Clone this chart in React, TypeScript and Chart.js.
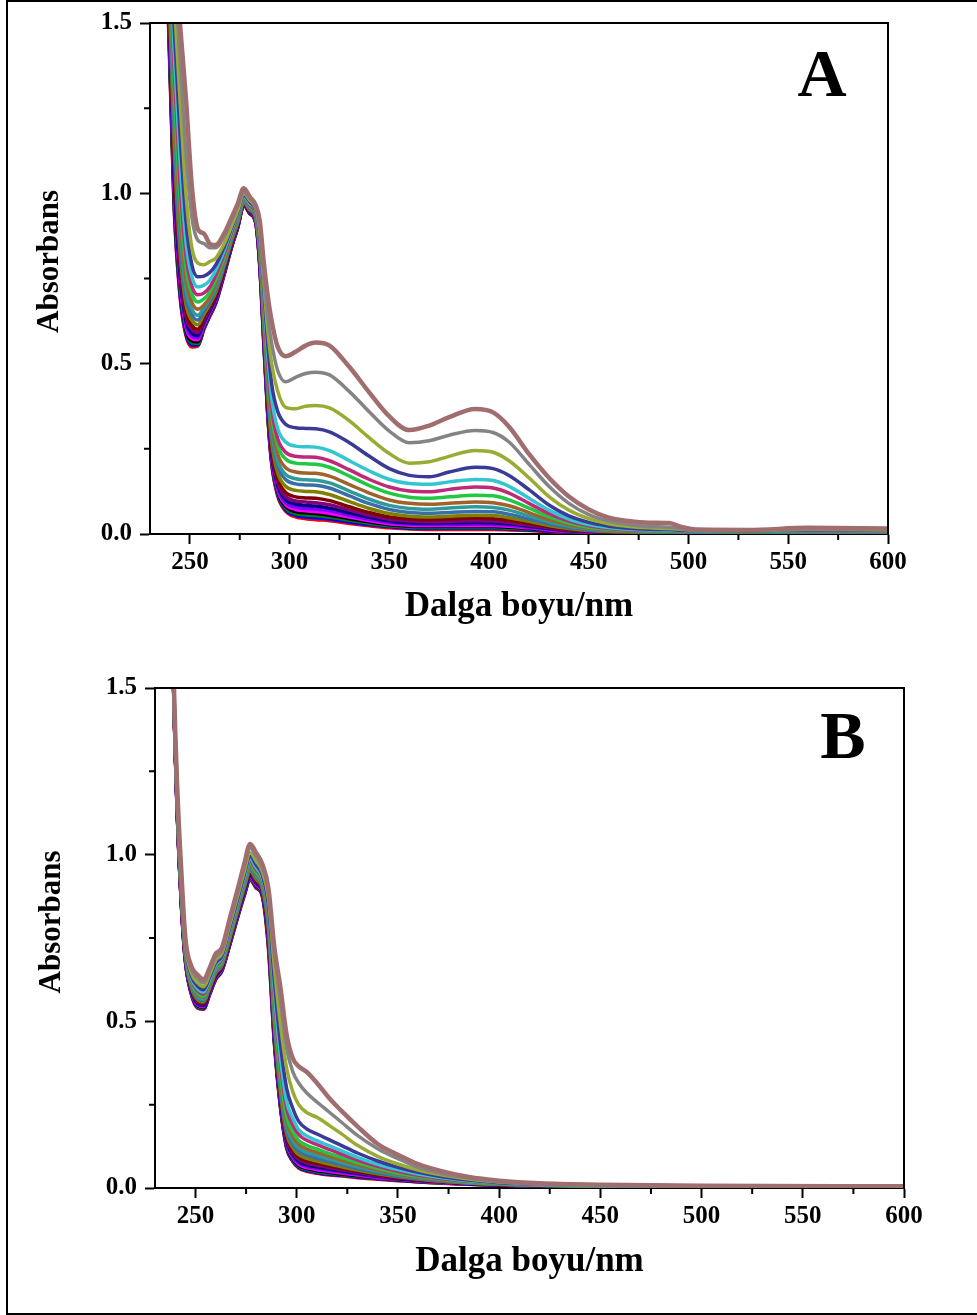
import React, { useEffect, useRef } from 'react';
import { Chart, registerables } from 'chart.js';
Chart.register(...registerables);

// ---------- Panel A data (wavelength, nm) ----------
const WL_A = [236, 239, 242, 245, 248, 251, 254, 257, 260, 263, 267, 271, 274, 277, 280, 283, 285, 287, 289, 291, 294, 298, 303, 308, 313, 320, 330, 340, 350, 360, 370, 380, 393, 402, 410, 420, 430, 440, 450, 460, 470, 480, 490, 497, 505, 530, 560, 600];

const A_BROWN = [2.6, 2.05, 1.75, 1.5, 1.28, 1.02, 0.895, 0.882, 0.852, 0.848, 0.88, 0.93, 0.97, 1.015, 0.99, 0.965, 0.92, 0.8, 0.7, 0.625, 0.55, 0.522, 0.535, 0.553, 0.562, 0.553, 0.49, 0.415, 0.345, 0.305, 0.318, 0.343, 0.367, 0.357, 0.315, 0.235, 0.165, 0.11, 0.072, 0.048, 0.038, 0.033, 0.032, 0.02, 0.013, 0.012, 0.018, 0.016];
const A_GRAY = [2.55, 2.0, 1.68, 1.4, 1.12, 0.93, 0.862, 0.853, 0.84, 0.84, 0.872, 0.922, 0.963, 1.005, 0.985, 0.96, 0.9, 0.76, 0.64, 0.56, 0.48, 0.447, 0.46, 0.471, 0.475, 0.467, 0.418, 0.358, 0.302, 0.268, 0.274, 0.29, 0.304, 0.298, 0.27, 0.205, 0.14, 0.09, 0.057, 0.038, 0.028, 0.022, 0.02, 0.015, 0.012, 0.011, 0.015, 0.014];
const A_OLIVEGREEN = [2.5, 1.95, 1.58, 1.28, 1.0, 0.84, 0.795, 0.79, 0.8, 0.81, 0.85, 0.905, 0.95, 1.0, 0.98, 0.955, 0.89, 0.74, 0.6, 0.5, 0.42, 0.372, 0.368, 0.375, 0.377, 0.37, 0.332, 0.282, 0.236, 0.208, 0.212, 0.228, 0.245, 0.24, 0.215, 0.165, 0.11, 0.07, 0.045, 0.03, 0.022, 0.018, 0.016, 0.013, 0.011, 0.01, 0.013, 0.012];
const A_NAVY = [2.45, 1.9, 1.5, 1.18, 0.92, 0.79, 0.755, 0.757, 0.768, 0.79, 0.84, 0.9, 0.945, 0.995, 0.975, 0.95, 0.88, 0.72, 0.56, 0.44, 0.36, 0.322, 0.312, 0.31, 0.309, 0.3, 0.268, 0.228, 0.192, 0.172, 0.168, 0.182, 0.196, 0.192, 0.172, 0.13, 0.085, 0.053, 0.034, 0.023, 0.017, 0.014, 0.013, 0.011, 0.01, 0.009, 0.011, 0.011];
const A_CYAN = [2.42, 1.85, 1.43, 1.1, 0.86, 0.755, 0.725, 0.73, 0.745, 0.775, 0.83, 0.895, 0.94, 0.99, 0.97, 0.945, 0.87, 0.7, 0.53, 0.4, 0.31, 0.27, 0.258, 0.256, 0.255, 0.245, 0.215, 0.185, 0.16, 0.148, 0.146, 0.153, 0.16, 0.157, 0.14, 0.105, 0.07, 0.044, 0.028, 0.019, 0.014, 0.012, 0.011, 0.01, 0.009, 0.008, 0.01, 0.01];
const A_MAGENTA = [2.4, 1.82, 1.38, 1.04, 0.82, 0.728, 0.702, 0.707, 0.725, 0.76, 0.82, 0.888, 0.935, 0.987, 0.965, 0.94, 0.86, 0.68, 0.5, 0.37, 0.28, 0.24, 0.228, 0.226, 0.225, 0.215, 0.188, 0.16, 0.138, 0.126, 0.124, 0.131, 0.138, 0.135, 0.12, 0.09, 0.06, 0.038, 0.024, 0.016, 0.012, 0.01, 0.01, 0.009, 0.008, 0.008, 0.009, 0.009];
const A_GREEN = [2.38, 1.79, 1.33, 0.99, 0.785, 0.705, 0.681, 0.69, 0.71, 0.748, 0.81, 0.882, 0.93, 0.984, 0.962, 0.937, 0.85, 0.665, 0.48, 0.35, 0.26, 0.22, 0.208, 0.206, 0.205, 0.196, 0.17, 0.142, 0.12, 0.108, 0.105, 0.109, 0.114, 0.112, 0.1, 0.076, 0.051, 0.032, 0.02, 0.014, 0.011, 0.009, 0.009, 0.008, 0.008, 0.007, 0.008, 0.008];
const A_ORANGE = [2.36, 1.76, 1.28, 0.94, 0.75, 0.68, 0.66, 0.672, 0.695, 0.737, 0.8, 0.876, 0.925, 0.981, 0.958, 0.933, 0.84, 0.65, 0.46, 0.325, 0.235, 0.195, 0.182, 0.179, 0.178, 0.17, 0.145, 0.12, 0.1, 0.09, 0.087, 0.09, 0.094, 0.092, 0.083, 0.063, 0.042, 0.027, 0.017, 0.012, 0.009, 0.008, 0.008, 0.007, 0.007, 0.006, 0.007, 0.007];
const A_TEAL = [2.35, 1.73, 1.24, 0.9, 0.72, 0.66, 0.642, 0.665, 0.69, 0.725, 0.792, 0.87, 0.92, 0.978, 0.955, 0.93, 0.835, 0.64, 0.445, 0.305, 0.215, 0.175, 0.162, 0.159, 0.158, 0.15, 0.126, 0.102, 0.084, 0.075, 0.073, 0.076, 0.08, 0.078, 0.07, 0.053, 0.036, 0.023, 0.015, 0.01, 0.008, 0.007, 0.007, 0.006, 0.006, 0.006, 0.006, 0.006];
const A_STEEL = [2.34, 1.71, 1.2, 0.865, 0.695, 0.643, 0.628, 0.655, 0.682, 0.718, 0.787, 0.866, 0.917, 0.976, 0.953, 0.928, 0.83, 0.63, 0.43, 0.29, 0.2, 0.16, 0.147, 0.144, 0.143, 0.135, 0.112, 0.089, 0.072, 0.063, 0.061, 0.063, 0.066, 0.065, 0.058, 0.044, 0.03, 0.019, 0.012, 0.009, 0.007, 0.006, 0.006, 0.006, 0.005, 0.005, 0.005, 0.005];
const A_OLIVE = [2.33, 1.69, 1.16, 0.835, 0.675, 0.627, 0.614, 0.645, 0.675, 0.71, 0.782, 0.862, 0.914, 0.974, 0.951, 0.926, 0.825, 0.62, 0.415, 0.27, 0.18, 0.14, 0.128, 0.125, 0.124, 0.116, 0.095, 0.075, 0.06, 0.052, 0.05, 0.052, 0.055, 0.054, 0.048, 0.037, 0.025, 0.016, 0.01, 0.007, 0.006, 0.005, 0.005, 0.005, 0.005, 0.004, 0.005, 0.005];
const A_DKRED = [2.32, 1.67, 1.13, 0.81, 0.655, 0.612, 0.601, 0.636, 0.668, 0.703, 0.777, 0.858, 0.911, 0.972, 0.949, 0.924, 0.82, 0.61, 0.4, 0.255, 0.163, 0.122, 0.109, 0.106, 0.105, 0.098, 0.08, 0.063, 0.05, 0.044, 0.042, 0.044, 0.046, 0.045, 0.04, 0.031, 0.021, 0.013, 0.009, 0.006, 0.005, 0.005, 0.005, 0.004, 0.004, 0.004, 0.004, 0.004];
const A_PURPLE = [2.32, 1.65, 1.1, 0.79, 0.64, 0.6, 0.591, 0.628, 0.662, 0.698, 0.773, 0.855, 0.909, 0.971, 0.947, 0.922, 0.815, 0.6, 0.39, 0.245, 0.152, 0.11, 0.097, 0.094, 0.092, 0.086, 0.07, 0.055, 0.043, 0.038, 0.036, 0.037, 0.039, 0.038, 0.034, 0.026, 0.018, 0.011, 0.008, 0.006, 0.005, 0.004, 0.004, 0.004, 0.004, 0.003, 0.004, 0.004];
const A_DKNAVY = [2.31, 1.63, 1.07, 0.77, 0.628, 0.59, 0.583, 0.622, 0.657, 0.694, 0.77, 0.853, 0.907, 0.97, 0.946, 0.92, 0.81, 0.595, 0.383, 0.237, 0.144, 0.101, 0.088, 0.084, 0.082, 0.076, 0.062, 0.049, 0.038, 0.033, 0.032, 0.033, 0.034, 0.033, 0.03, 0.023, 0.016, 0.01, 0.007, 0.005, 0.004, 0.004, 0.004, 0.004, 0.003, 0.003, 0.003, 0.003];
const A_VIOLET = [2.31, 1.61, 1.05, 0.755, 0.617, 0.581, 0.576, 0.617, 0.653, 0.69, 0.767, 0.851, 0.905, 0.969, 0.945, 0.918, 0.805, 0.59, 0.376, 0.23, 0.136, 0.093, 0.079, 0.075, 0.073, 0.068, 0.055, 0.043, 0.034, 0.029, 0.028, 0.028, 0.029, 0.028, 0.026, 0.02, 0.014, 0.009, 0.006, 0.005, 0.004, 0.004, 0.003, 0.003, 0.003, 0.003, 0.003, 0.003];
const A_PINK = [2.3, 1.6, 1.03, 0.74, 0.608, 0.574, 0.57, 0.612, 0.65, 0.687, 0.765, 0.849, 0.904, 0.968, 0.944, 0.917, 0.8, 0.585, 0.37, 0.224, 0.13, 0.087, 0.072, 0.068, 0.066, 0.061, 0.05, 0.039, 0.03, 0.026, 0.025, 0.025, 0.025, 0.025, 0.023, 0.018, 0.012, 0.008, 0.005, 0.004, 0.004, 0.003, 0.003, 0.003, 0.003, 0.003, 0.003, 0.003];
const A_BLACK = [2.3, 1.59, 1.01, 0.728, 0.6, 0.567, 0.564, 0.608, 0.647, 0.684, 0.763, 0.847, 0.902, 0.967, 0.943, 0.916, 0.797, 0.58, 0.365, 0.219, 0.125, 0.081, 0.066, 0.062, 0.06, 0.055, 0.045, 0.035, 0.027, 0.023, 0.022, 0.022, 0.022, 0.022, 0.02, 0.016, 0.011, 0.007, 0.005, 0.004, 0.003, 0.003, 0.003, 0.003, 0.003, 0.002, 0.003, 0.003];
const A_DKGREEN = [2.3, 1.58, 0.995, 0.718, 0.594, 0.561, 0.559, 0.605, 0.644, 0.681, 0.761, 0.846, 0.901, 0.967, 0.942, 0.915, 0.794, 0.575, 0.36, 0.214, 0.12, 0.076, 0.06, 0.056, 0.054, 0.05, 0.04, 0.031, 0.024, 0.02, 0.019, 0.019, 0.019, 0.019, 0.017, 0.014, 0.01, 0.006, 0.004, 0.003, 0.003, 0.003, 0.002, 0.002, 0.002, 0.002, 0.002, 0.002];
const A_BLUE = [2.3, 1.57, 0.98, 0.708, 0.588, 0.555, 0.555, 0.602, 0.641, 0.679, 0.759, 0.845, 0.9, 0.966, 0.941, 0.914, 0.791, 0.57, 0.355, 0.21, 0.116, 0.071, 0.055, 0.05, 0.048, 0.044, 0.035, 0.027, 0.021, 0.017, 0.016, 0.016, 0.016, 0.016, 0.015, 0.012, 0.008, 0.005, 0.004, 0.003, 0.002, 0.002, 0.002, 0.002, 0.002, 0.002, 0.002, 0.002];
const A_RED = [2.3, 1.55, 0.97, 0.7, 0.583, 0.549, 0.552, 0.6, 0.639, 0.677, 0.757, 0.844, 0.9, 0.965, 0.94, 0.913, 0.788, 0.565, 0.35, 0.206, 0.112, 0.067, 0.05, 0.045, 0.042, 0.039, 0.031, 0.024, 0.018, 0.015, 0.013, 0.013, 0.013, 0.013, 0.012, 0.01, 0.007, 0.004, 0.003, 0.002, 0.002, 0.002, 0.002, 0.002, 0.002, 0.002, 0.002, 0.002];

// ---------- Panel B data ----------
const WL_B = [236, 239, 241, 243, 245, 248, 251, 254, 257, 260, 263, 267, 271, 274, 277, 280, 283, 286, 289, 292, 295, 298, 301, 305, 310, 316, 322, 330, 340, 350, 360, 372, 385, 400, 420, 450, 500, 600];

const B_BROWN = [2.8, 1.6, 1.2, 0.95, 0.75, 0.665, 0.64, 0.625, 0.66, 0.703, 0.72, 0.81, 0.9, 0.97, 1.032, 1.005, 0.972, 0.9, 0.72, 0.6, 0.46, 0.39, 0.365, 0.348, 0.315, 0.27, 0.232, 0.185, 0.132, 0.1, 0.072, 0.05, 0.033, 0.022, 0.014, 0.01, 0.007, 0.005];
const B_GRAY = [2.79, 1.595, 1.19, 0.94, 0.742, 0.656, 0.629, 0.615, 0.651, 0.694, 0.712, 0.801, 0.891, 0.96, 1.02, 0.993, 0.961, 0.89, 0.7, 0.56, 0.42, 0.35, 0.315, 0.285, 0.258, 0.228, 0.198, 0.158, 0.118, 0.088, 0.062, 0.043, 0.03, 0.019, 0.012, 0.009, 0.006, 0.005];
const B_OLIVEGREEN = [2.78, 1.59, 1.18, 0.926, 0.733, 0.645, 0.616, 0.604, 0.641, 0.684, 0.703, 0.791, 0.88, 0.947, 1.006, 0.98, 0.949, 0.87, 0.66, 0.49, 0.36, 0.29, 0.25, 0.226, 0.212, 0.188, 0.163, 0.128, 0.095, 0.072, 0.054, 0.039, 0.027, 0.018, 0.012, 0.008, 0.006, 0.004];
const B_NAVY = [2.77, 1.583, 1.173, 0.916, 0.726, 0.636, 0.606, 0.595, 0.633, 0.676, 0.696, 0.783, 0.871, 0.938, 0.995, 0.969, 0.939, 0.85, 0.62, 0.43, 0.3, 0.24, 0.2, 0.177, 0.162, 0.145, 0.128, 0.105, 0.081, 0.062, 0.047, 0.034, 0.024, 0.016, 0.011, 0.008, 0.005, 0.004];
const B_CYAN = [2.76, 1.579, 1.166, 0.908, 0.721, 0.629, 0.598, 0.588, 0.626, 0.67, 0.691, 0.776, 0.864, 0.93, 0.987, 0.961, 0.931, 0.84, 0.59, 0.39, 0.26, 0.21, 0.175, 0.156, 0.142, 0.127, 0.112, 0.092, 0.071, 0.055, 0.042, 0.031, 0.022, 0.015, 0.01, 0.007, 0.005, 0.004];
const B_MAGENTA = [2.75, 1.576, 1.162, 0.902, 0.716, 0.624, 0.592, 0.582, 0.622, 0.666, 0.686, 0.772, 0.859, 0.924, 0.98, 0.955, 0.925, 0.83, 0.57, 0.37, 0.24, 0.19, 0.16, 0.143, 0.13, 0.116, 0.102, 0.084, 0.065, 0.05, 0.038, 0.028, 0.02, 0.014, 0.01, 0.007, 0.005, 0.004];
const B_GREEN = [2.745, 1.573, 1.156, 0.895, 0.711, 0.618, 0.585, 0.576, 0.616, 0.66, 0.681, 0.766, 0.853, 0.918, 0.973, 0.947, 0.919, 0.82, 0.55, 0.34, 0.215, 0.17, 0.143, 0.128, 0.117, 0.104, 0.092, 0.076, 0.059, 0.045, 0.035, 0.026, 0.018, 0.013, 0.009, 0.006, 0.004, 0.003];
const B_ORANGE = [2.74, 1.57, 1.152, 0.89, 0.708, 0.614, 0.58, 0.572, 0.612, 0.656, 0.678, 0.762, 0.849, 0.913, 0.967, 0.942, 0.914, 0.81, 0.53, 0.32, 0.2, 0.156, 0.131, 0.117, 0.107, 0.095, 0.084, 0.07, 0.054, 0.042, 0.032, 0.024, 0.017, 0.012, 0.009, 0.006, 0.004, 0.003];
const B_TEAL = [2.734, 1.567, 1.147, 0.884, 0.704, 0.609, 0.574, 0.566, 0.607, 0.652, 0.674, 0.757, 0.844, 0.907, 0.961, 0.936, 0.908, 0.8, 0.51, 0.305, 0.185, 0.143, 0.12, 0.107, 0.098, 0.087, 0.077, 0.064, 0.05, 0.039, 0.03, 0.023, 0.016, 0.012, 0.008, 0.006, 0.004, 0.003];
const B_STEEL = [2.73, 1.565, 1.144, 0.88, 0.701, 0.605, 0.57, 0.563, 0.604, 0.648, 0.671, 0.754, 0.84, 0.903, 0.956, 0.932, 0.904, 0.79, 0.5, 0.295, 0.173, 0.132, 0.11, 0.098, 0.089, 0.079, 0.07, 0.058, 0.046, 0.036, 0.028, 0.021, 0.015, 0.011, 0.008, 0.005, 0.004, 0.003];
const B_OLIVE = [2.725, 1.562, 1.14, 0.875, 0.697, 0.601, 0.565, 0.558, 0.6, 0.645, 0.667, 0.75, 0.836, 0.899, 0.951, 0.926, 0.899, 0.78, 0.49, 0.285, 0.163, 0.122, 0.1, 0.089, 0.081, 0.072, 0.064, 0.054, 0.043, 0.034, 0.027, 0.02, 0.015, 0.011, 0.008, 0.005, 0.004, 0.003];
const B_DKRED = [2.72, 1.56, 1.137, 0.871, 0.695, 0.598, 0.561, 0.555, 0.597, 0.641, 0.665, 0.747, 0.833, 0.895, 0.947, 0.922, 0.895, 0.77, 0.48, 0.277, 0.155, 0.114, 0.092, 0.081, 0.074, 0.066, 0.059, 0.05, 0.04, 0.032, 0.025, 0.019, 0.014, 0.01, 0.007, 0.005, 0.003, 0.003];
const B_PURPLE = [2.718, 1.559, 1.134, 0.868, 0.693, 0.595, 0.558, 0.552, 0.594, 0.639, 0.663, 0.744, 0.83, 0.892, 0.943, 0.919, 0.892, 0.765, 0.47, 0.27, 0.148, 0.107, 0.086, 0.075, 0.068, 0.061, 0.055, 0.047, 0.037, 0.03, 0.024, 0.018, 0.014, 0.01, 0.007, 0.005, 0.003, 0.002];
const B_DKNAVY = [2.714, 1.557, 1.131, 0.864, 0.69, 0.592, 0.554, 0.548, 0.591, 0.636, 0.66, 0.741, 0.827, 0.888, 0.939, 0.915, 0.889, 0.76, 0.465, 0.264, 0.142, 0.101, 0.08, 0.069, 0.063, 0.057, 0.051, 0.044, 0.035, 0.028, 0.023, 0.018, 0.013, 0.01, 0.007, 0.005, 0.003, 0.002];
const B_VIOLET = [2.711, 1.556, 1.129, 0.861, 0.688, 0.589, 0.551, 0.546, 0.589, 0.634, 0.658, 0.739, 0.824, 0.885, 0.936, 0.912, 0.886, 0.755, 0.458, 0.258, 0.137, 0.096, 0.075, 0.065, 0.059, 0.053, 0.048, 0.041, 0.033, 0.027, 0.022, 0.017, 0.013, 0.009, 0.007, 0.004, 0.003, 0.002];
const B_PINK = [2.709, 1.555, 1.127, 0.859, 0.686, 0.588, 0.549, 0.544, 0.587, 0.632, 0.656, 0.737, 0.823, 0.884, 0.934, 0.909, 0.884, 0.75, 0.452, 0.253, 0.133, 0.092, 0.071, 0.061, 0.055, 0.05, 0.045, 0.039, 0.031, 0.026, 0.021, 0.016, 0.012, 0.009, 0.006, 0.004, 0.003, 0.002];
const B_BLACK = [2.707, 1.554, 1.126, 0.857, 0.685, 0.586, 0.547, 0.542, 0.586, 0.631, 0.655, 0.736, 0.821, 0.882, 0.932, 0.907, 0.882, 0.745, 0.446, 0.249, 0.129, 0.088, 0.068, 0.058, 0.052, 0.047, 0.042, 0.037, 0.03, 0.025, 0.02, 0.016, 0.012, 0.009, 0.006, 0.004, 0.003, 0.002];
const B_DKGREEN = [2.704, 1.552, 1.123, 0.854, 0.683, 0.583, 0.544, 0.54, 0.583, 0.628, 0.653, 0.733, 0.818, 0.879, 0.928, 0.904, 0.879, 0.74, 0.442, 0.246, 0.126, 0.085, 0.065, 0.055, 0.049, 0.044, 0.04, 0.035, 0.029, 0.024, 0.019, 0.015, 0.012, 0.009, 0.006, 0.004, 0.003, 0.002];
const B_BLUE = [2.702, 1.551, 1.122, 0.852, 0.681, 0.582, 0.542, 0.538, 0.582, 0.627, 0.651, 0.732, 0.817, 0.877, 0.926, 0.902, 0.877, 0.73, 0.436, 0.243, 0.123, 0.082, 0.062, 0.052, 0.046, 0.041, 0.038, 0.033, 0.028, 0.023, 0.019, 0.015, 0.011, 0.008, 0.006, 0.004, 0.002, 0.002];
const B_RED = [2.7, 1.55, 1.12, 0.85, 0.68, 0.58, 0.54, 0.536, 0.58, 0.625, 0.65, 0.73, 0.815, 0.875, 0.924, 0.9, 0.875, 0.72, 0.43, 0.24, 0.12, 0.08, 0.06, 0.05, 0.044, 0.039, 0.036, 0.031, 0.026, 0.022, 0.018, 0.014, 0.011, 0.008, 0.006, 0.004, 0.002, 0.002];

// ---------- Series colours (top curve first) ----------
const COLORS = ['#a06e6e', '#848484', '#9aab33', '#3a3a98', '#33c6d0', '#c0287a', '#22c744', '#a0622a', '#2e9a9a', '#3a6ea8', '#808000', '#800000', '#800080', '#000080', '#8000ff', '#ff00ff', '#000000', '#008000', '#0000ff', '#ff0000'];

const SERIES_A = [A_BROWN, A_GRAY, A_OLIVEGREEN, A_NAVY, A_CYAN, A_MAGENTA, A_GREEN, A_ORANGE, A_TEAL, A_STEEL, A_OLIVE, A_DKRED, A_PURPLE, A_DKNAVY, A_VIOLET, A_PINK, A_BLACK, A_DKGREEN, A_BLUE, A_RED];
const SERIES_B = [B_BROWN, B_GRAY, B_OLIVEGREEN, B_NAVY, B_CYAN, B_MAGENTA, B_GREEN, B_ORANGE, B_TEAL, B_STEEL, B_OLIVE, B_DKRED, B_PURPLE, B_DKNAVY, B_VIOLET, B_PINK, B_BLACK, B_DKGREEN, B_BLUE, B_RED];

// ---------- Axis ticks ----------
const X_TICKS = [250, 300, 350, 400, 450, 500, 550, 600];
const X_MINOR = [275, 325, 375, 425, 475, 525, 575];
const Y_TICKS = [0, 0.5, 1.0, 1.5];
const Y_MINOR = [0.25, 0.75, 1.25];

const X_TITLE = 'Dalga boyu/nm';
const Y_TITLE = 'Absorbans';

const FAMILY = '"Liberation Serif", "Times New Roman", serif';

const framePlugin = {
  id: 'frame',
  afterDatasetsDraw(chart: any, _args: any, opts: any) {
    const { ctx, chartArea, scales } = chart;
    const { left, right, top, bottom } = chartArea;
    ctx.save();
    ctx.strokeStyle = '#000';
    ctx.lineWidth = 2;
    ctx.beginPath();
    ctx.moveTo(left, top);
    ctx.lineTo(right, top);
    ctx.lineTo(right, bottom);
    ctx.stroke();
    ctx.beginPath();
    for (const v of X_MINOR) {
      const px = scales.x.getPixelForValue(v);
      ctx.moveTo(px, bottom);
      ctx.lineTo(px, bottom + 6);
    }
    for (const v of Y_MINOR) {
      const py = scales.y.getPixelForValue(v);
      ctx.moveTo(left, py);
      ctx.lineTo(left - 6, py);
    }
    ctx.stroke();
    ctx.fillStyle = '#000';
    // panel letter
    ctx.font = `bold ${opts.size}px ${FAMILY}`;
    ctx.textAlign = 'center';
    ctx.textBaseline = 'alphabetic';
    ctx.fillText(opts.label, right - opts.dx, top + opts.dy);
    // y-axis title (rotated)
    ctx.font = `bold 31px ${FAMILY}`;
    ctx.textBaseline = 'middle';
    ctx.translate(opts.yTitleX, (top + bottom) / 2 - opts.yTitleLift);
    ctx.rotate(-Math.PI / 2);
    ctx.fillText(Y_TITLE, 0, 0);
    ctx.restore();
  },
};

type PanelProps = {
  wl: number[];
  series: number[][];
  top: number;
  height: number;
  yWidth: number;
  xHeight: number;
  padTop: number;
  padRight: number;
  yTitleX: number;
  yTitleLift: number;
  xTitlePad: number;
  label: string;
  labelDx: number;
  labelDy: number;
};

function Panel(p: PanelProps) {
  const ref = useRef<HTMLCanvasElement | null>(null);
  useEffect(() => {
    if (!ref.current) return;
    const datasets = p.series.map((vals, i) => ({
      label: 'S' + (i + 1),
      data: p.wl.map((x, j) => ({ x, y: vals[j] })),
      borderColor: COLORS[i],
      backgroundColor: COLORS[i],
      borderWidth: i === 0 ? 4.5 : 3.5,
      pointRadius: 0,
      fill: false,
      cubicInterpolationMode: 'monotone' as const,
    }));
    const tickFont = { family: FAMILY, size: 25, weight: 'bold' as const };
    const chart = new Chart(ref.current, {
      type: 'line',
      data: { datasets },
      plugins: [framePlugin],
      options: {
        animation: false,
        responsive: false,
        maintainAspectRatio: false,
        layout: { padding: { top: p.padTop, right: p.padRight, left: 0, bottom: 0 } },
        plugins: {
          legend: { display: false },
          tooltip: { enabled: false },
          frame: { label: p.label, dx: p.labelDx, dy: p.labelDy, size: 68, yTitleX: p.yTitleX, yTitleLift: p.yTitleLift },
        } as any,
        scales: {
          x: {
            type: 'linear',
            min: 230,
            max: 600,
            afterBuildTicks: (s: any) => { s.ticks = X_TICKS.map((v) => ({ value: v })); },
            afterFit: (s: any) => { s.height = p.xHeight; },
            grid: { drawOnChartArea: false, drawTicks: true, tickLength: 10, tickWidth: 2, tickColor: '#000' },
            border: { display: true, color: '#000', width: 2 },
            ticks: { color: '#000', font: tickFont, padding: 4, maxRotation: 0, autoSkip: false, callback: (v: any) => String(v) },
            title: { display: true, text: X_TITLE, color: '#000', font: { family: FAMILY, size: 35, weight: 'bold' }, padding: { top: 0, bottom: p.xTitlePad } },
          },
          y: {
            type: 'linear',
            min: 0,
            max: 1.5,
            afterBuildTicks: (s: any) => { s.ticks = Y_TICKS.map((v) => ({ value: v })); },
            afterFit: (s: any) => { s.width = p.yWidth; },
            grid: { drawOnChartArea: false, drawTicks: true, tickLength: 10, tickWidth: 2, tickColor: '#000' },
            border: { display: true, color: '#000', width: 2 },
            ticks: { color: '#000', font: tickFont, padding: 8, autoSkip: false, callback: (v: any) => Number(v).toFixed(1) },
            title: { display: false },
          },
        },
      } as any,
    });
    return () => chart.destroy();
  }, []);
  return (
    <canvas
      ref={ref}
      width={977}
      height={p.height}
      style={{ position: 'absolute', left: 0, top: p.top, width: 977, height: p.height }}
    />
  );
}

export default function App() {
  return (
    <div style={{ position: 'absolute', left: 0, top: 0, width: 977, height: 1315, background: '#fff', overflow: 'hidden' }}>
      <div
        style={{
          position: 'absolute', left: 6, top: 0, width: 971, height: 1315, boxSizing: 'border-box',
          borderLeft: '2px solid #000', borderTop: '2px solid #000', borderBottom: '2px solid #000',
        }}
      />
      <Panel wl={WL_A} series={SERIES_A} top={0} height={650} yWidth={150} xHeight={116} padTop={21} padRight={89} yTitleX={50} yTitleLift={17} xTitlePad={22} label="A" labelDx={66} labelDy={73} />
      <Panel wl={WL_B} series={SERIES_B} top={660} height={640} yWidth={155} xHeight={112} padTop={28} padRight={73} yTitleX={52} yTitleLift={16} xTitlePad={17} label="B" labelDx={61} labelDy={70} />
    </div>
  );
}
